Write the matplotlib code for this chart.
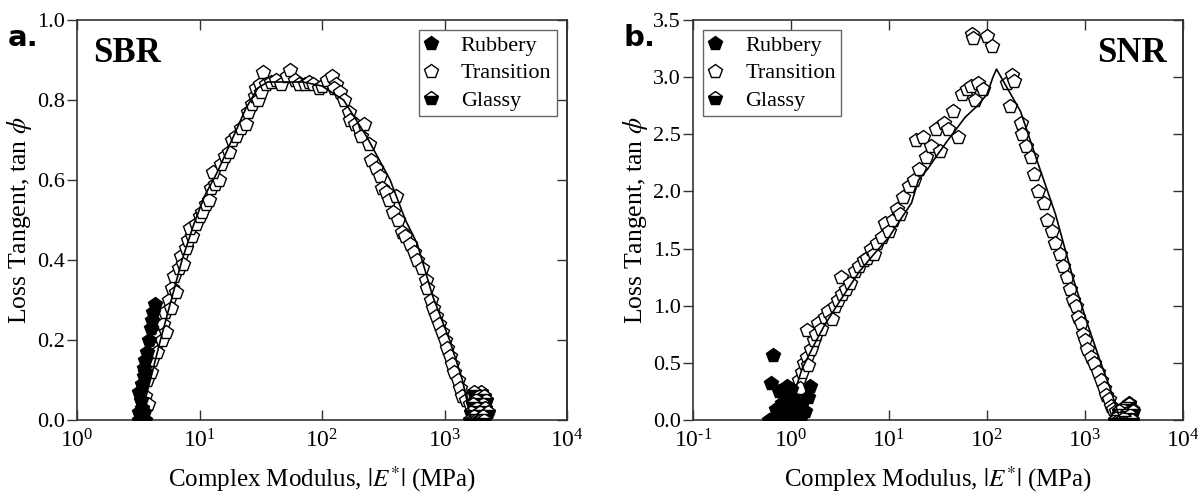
import matplotlib
matplotlib.use("Agg")
import matplotlib.pyplot as plt
import numpy as np
from matplotlib.ticker import LogLocator, NullLocator, MultipleLocator, FormatStrFormatter, FuncFormatter

plt.rcParams['font.family'] = ['Liberation Serif', 'DejaVu Serif']
plt.rcParams['mathtext.fontset'] = 'stix'
plt.rcParams['axes.unicode_minus'] = False

# ---- SBR (panel a) ----
sbr_fit_E = [3.3, 3.6, 4.2, 4.8, 6.0, 7.2, 9.0, 11, 14, 19, 24, 30, 36, 50, 70, 100,
             150, 230, 360, 480, 600, 800, 1100, 1400, 1650]
sbr_fit_tan = [0.0, 0.05, 0.13, 0.2, 0.31, 0.4, 0.49, 0.56, 0.62, 0.71, 0.78, 0.83, 0.845,
               0.845, 0.845, 0.835, 0.80, 0.71, 0.60, 0.50, 0.44, 0.31, 0.20, 0.10, 0.0]

sbr_trans_E = [3.5, 3.6, 3.8, 3.7, 4.0, 4.1, 4.3, 4.5, 4.6, 4.9, 5.0, 5.3, 5.2, 5.6, 5.9,
               6.0, 6.4, 6.2, 6.8, 7.0, 7.4, 7.7, 8.0, 8.7, 8.3, 9.3, 10, 10.5, 11.2, 12,
               12.5, 13.5, 14.5, 13, 15, 16, 17.5, 18.5, 20, 22, 24, 25, 27, 28.5, 30,
               29, 31, 32, 33, 35, 38, 42, 46, 52, 55, 60, 65, 72, 78, 85, 95, 100, 110,
               120, 130, 125, 140, 150, 165, 170, 185, 200, 210, 220, 240, 250, 275, 300,
               310, 330, 350, 380, 400, 420, 450, 480, 520, 560, 600, 650, 700, 720, 780,
               800, 850, 900, 950, 1000, 1050, 1100, 1150, 1200, 1300, 1350, 1400, 1500,
               1600, 1700, 1900]
sbr_trans_tan = [0.03, 0.06, 0.04, 0.10, 0.12, 0.15, 0.18, 0.17, 0.21, 0.20, 0.24, 0.22,
                 0.27, 0.30, 0.28, 0.33, 0.32, 0.36, 0.38, 0.41, 0.39, 0.43, 0.45, 0.46,
                 0.48, 0.49, 0.51, 0.52, 0.54, 0.55, 0.58, 0.59, 0.60, 0.62, 0.64, 0.66,
                 0.67, 0.70, 0.71, 0.73, 0.74, 0.77, 0.79, 0.81, 0.80, 0.83, 0.84, 0.82,
                 0.87, 0.84, 0.845, 0.85, 0.84, 0.86, 0.875, 0.85, 0.84, 0.84, 0.845,
                 0.84, 0.83, 0.835, 0.85, 0.86, 0.84, 0.83, 0.82, 0.80, 0.77, 0.75, 0.74,
                 0.73, 0.71, 0.74, 0.69, 0.65, 0.63, 0.61, 0.58, 0.57, 0.55, 0.52, 0.56,
                 0.50, 0.47, 0.46, 0.44, 0.42, 0.40, 0.38, 0.35, 0.33, 0.30, 0.28, 0.26,
                 0.24, 0.22, 0.20, 0.18, 0.16, 0.14, 0.12, 0.10, 0.08, 0.06, 0.05, 0.04,
                 0.06, 0.05]

sbr_rub_E = [3.2, 3.3, 3.4, 3.5, 3.6, 3.2, 3.4, 3.3, 3.2, 3.4, 3.5, 3.5, 3.6, 3.7, 3.6,
             3.9, 4.0, 4.1, 4.2, 4.3, 3.3, 3.5]
sbr_rub_tan = [0.0, 0.0, 0.0, 0.0, 0.0, 0.02, 0.03, 0.05, 0.07, 0.09, 0.11, 0.13, 0.15,
               0.17, 0.12, 0.20, 0.23, 0.25, 0.27, 0.29, 0.01, 0.02]

sbr_gla_E = [1600, 1700, 1800, 1900, 2000, 2100, 1650, 1750, 1850, 1950, 2050, 2150, 2200,
             1800, 1900, 2000, 2100, 1700, 2250, 1750, 2050]
sbr_gla_tan = [0.0, 0.0, 0.0, 0.0, 0.0, 0.0, 0.02, 0.01, 0.03, 0.02, 0.04, 0.03, 0.05,
               0.05, 0.06, 0.07, 0.06, 0.04, 0.02, 0.07, 0.01]

# ---- SNR (panel b) ----
snr_fit_E = [0.8, 0.9, 1.0, 1.3, 1.7, 2.2, 3.2, 5, 7, 10, 13, 17, 20, 25, 30, 40, 60, 80,
             100, 115, 125, 220, 330, 500, 750, 1050, 1450, 1850, 2200, 2300]
snr_fit_tan = [0.0, 0.06, 0.15, 0.45, 0.65, 0.83, 1.05, 1.3, 1.45, 1.6, 1.75, 1.9, 2.1,
               2.2, 2.3, 2.45, 2.65, 2.75, 2.85, 3.0, 3.07, 2.7, 2.25, 1.8, 1.25, 0.85,
               0.5, 0.25, 0.05, 0.0]

snr_trans_E = [0.95, 1.0, 1.05, 1.1, 1.15, 1.2, 1.25, 1.3, 1.35, 1.45, 1.5, 1.47, 1.6, 1.7,
               1.8, 1.9, 2.0, 2.2, 2.4, 2.6, 2.8, 3.0, 3.3, 3.6, 3.2, 4.0, 4.5, 5.0, 5.5,
               6.0, 6.5, 7.0, 7.5, 8.5, 9, 10, 11, 12, 13, 14, 16, 18, 20, 19, 22, 24, 27,
               30, 33, 36, 40, 45, 51, 55, 62, 68, 75, 80, 90, 70, 72, 100, 112,
               160, 180, 190, 170, 220, 230, 250, 280, 300, 330, 380, 410, 460, 500, 550,
               600, 650, 700, 760, 800, 850, 900, 950, 1000, 1050, 1150, 1250, 1350, 1450,
               1550, 1650, 1750, 1850, 1950, 2050, 2200, 2600, 2800, 3000]
snr_trans_tan = [0.05, 0.10, 0.20, 0.12, 0.25, 0.35, 0.28, 0.42, 0.50, 0.55, 0.48, 0.79,
                 0.62, 0.70, 0.75, 0.85, 0.80, 0.90, 0.95, 0.88, 1.00, 1.05, 1.10, 1.15,
                 1.25, 1.20, 1.30, 1.35, 1.40, 1.42, 1.50, 1.45, 1.55, 1.60, 1.72, 1.65,
                 1.75, 1.85, 1.80, 1.95, 2.05, 2.10, 2.20, 2.45, 2.48, 2.30, 2.40, 2.55,
                 2.35, 2.60, 2.55, 2.70, 2.48, 2.85, 2.90, 2.92, 2.80, 2.95, 2.90, 3.38,
                 3.34, 3.36, 3.27,
                 2.95, 3.02, 2.97, 2.75, 2.60, 2.50, 2.40, 2.30, 2.15, 2.00, 1.90, 1.75,
                 1.65, 1.55, 1.45, 1.35, 1.25, 1.15, 1.05, 1.00, 0.90, 0.85, 0.75, 0.70,
                 0.62, 0.55, 0.50, 0.42, 0.35, 0.28, 0.22, 0.18, 0.12, 0.10, 0.08, 0.05,
                 0.12, 0.15, 0.10]

snr_rub_E = [0.65, 0.6, 0.65, 0.7, 0.75, 0.8, 0.85, 0.9, 0.95, 1.0, 1.1, 1.2, 1.3, 0.7,
             0.8, 0.75, 0.85, 0.9, 1.0, 0.95, 1.1, 1.2, 1.3, 1.4, 1.55, 1.5, 0.62]
snr_rub_tan = [0.57, 0.0, 0.02, 0.0, 0.05, 0.02, 0.0, 0.04, 0.0, 0.02, 0.0, 0.03, 0.05,
               0.10, 0.15, 0.25, 0.22, 0.30, 0.27, 0.12, 0.18, 0.10, 0.15, 0.08, 0.30,
               0.20, 0.32]

snr_gla_E = [2000, 2200, 2400, 2600, 2800, 3000, 2100, 2300, 2500, 2700, 2900, 3100, 2400,
             2600, 2800, 2200]
snr_gla_tan = [0.0, 0.0, 0.0, 0.0, 0.0, 0.0, 0.03, 0.05, 0.02, 0.06, 0.04, 0.08, 0.10,
               0.12, 0.14, 0.08]

panels = [
    dict(name='SBR', letter='a.', fit=(sbr_fit_E, sbr_fit_tan), trans=(sbr_trans_E, sbr_trans_tan),
         rub=(sbr_rub_E, sbr_rub_tan), gla=(sbr_gla_E, sbr_gla_tan), xlim=(1, 1e4),
         ylim=(0, 1.0), ystep=0.2, left=77),
    dict(name='SNR', letter='b.', fit=(snr_fit_E, snr_fit_tan), trans=(snr_trans_E, snr_trans_tan),
         rub=(snr_rub_E, snr_rub_tan), gla=(snr_gla_E, snr_gla_tan), xlim=(0.1, 1e4),
         ylim=(0, 3.5), ystep=0.5, left=693),
]


def decade_label(v, pos):
    e = int(round(np.log10(v)))
    exp = r'\text{-}%d' % abs(e) if e < 0 else '%d' % e
    return r'$\mathdefault{10^{%s}}$' % exp


W, H = 1198, 495
fig = plt.figure(figsize=(W / 100, H / 100), dpi=100)

ms = 10
mew = 1.0
spine_col = '#333333'

for p in panels:
    ax = fig.add_axes([p['left'] / W, (H - 420) / H, 490 / W, 400 / H])
    ax.set_xscale('log')

    ax.plot(*p['trans'], linestyle='none', marker='p', ms=ms, mfc='white', mec='black',
            mew=mew, label='Transition', zorder=2)
    ax.plot(*p['rub'], linestyle='none', marker='p', ms=ms, mfc='black', mec='black',
            mew=mew, label='Rubbery', zorder=3)
    ax.plot(*p['gla'], linestyle='none', marker='p', ms=ms, mfc='black', mec='black',
            mfcalt='white', fillstyle='bottom', mew=mew, label='Glassy', zorder=3)
    ax.plot(*p['fit'], color='black', lw=1.2, zorder=4)

    ax.set_xlim(*p['xlim'])
    ax.set_ylim(*p['ylim'])
    ax.xaxis.set_major_locator(LogLocator(base=10, numticks=10))
    ax.xaxis.set_minor_locator(NullLocator())
    ax.xaxis.set_major_formatter(FuncFormatter(decade_label))
    ax.yaxis.set_major_locator(MultipleLocator(p['ystep']))
    ax.yaxis.set_major_formatter(FormatStrFormatter('%.1f'))

    ax.tick_params(axis='x', which='both', direction='in', top=True, length=7,
                   width=1.0, labelsize=17, pad=7, color=spine_col)
    ax.tick_params(axis='y', direction='out', length=7, width=1.0, labelsize=16,
                   pad=2, color=spine_col)
    sec = ax.secondary_yaxis('right')
    sec.yaxis.set_major_locator(MultipleLocator(p['ystep']))
    sec.tick_params(direction='in', length=7, width=1.0, labelright=False, color=spine_col)
    sec.spines['right'].set_color(spine_col)
    sec.spines['right'].set_linewidth(1.2)
    for s in ax.spines.values():
        s.set_color(spine_col)
        s.set_linewidth(1.2)

    ax.set_xlabel(r'Complex Modulus, $|E^{*}|$ (MPa)', fontsize=18, labelpad=8)
    ax.set_ylabel(r'Loss Tangent, tan $\phi$', fontsize=18.5, labelpad=2)

    handles, labels = ax.get_legend_handles_labels()
    order = [labels.index('Rubbery'), labels.index('Transition'), labels.index('Glassy')]
    leg = ax.legend([handles[i] for i in order], [labels[i] for i in order],
                    loc='upper right' if p['name'] == 'SBR' else 'upper left',
                    fontsize=16, frameon=True, fancybox=False, framealpha=1,
                    edgecolor='#666666', handlelength=0.6, handletextpad=1.05,
                    labelspacing=0.3, borderpad=0.25, borderaxespad=0.45)
    leg.get_frame().set_linewidth(1.0)

    if p['name'] == 'SBR':
        ax.text(0.033, 0.895, p['name'], transform=ax.transAxes, fontsize=25,
                fontweight='bold', ha='left', va='baseline')
    else:
        ax.text(0.967, 0.895, p['name'], transform=ax.transAxes, fontsize=25,
                fontweight='bold', ha='right', va='baseline')

    fig.text((p['left'] - 69) / W, 1 - 46 / H, p['letter'], fontsize=21,
             fontweight='bold', family='DejaVu Sans', ha='left', va='baseline')

fig.savefig('out.png', dpi=100)
